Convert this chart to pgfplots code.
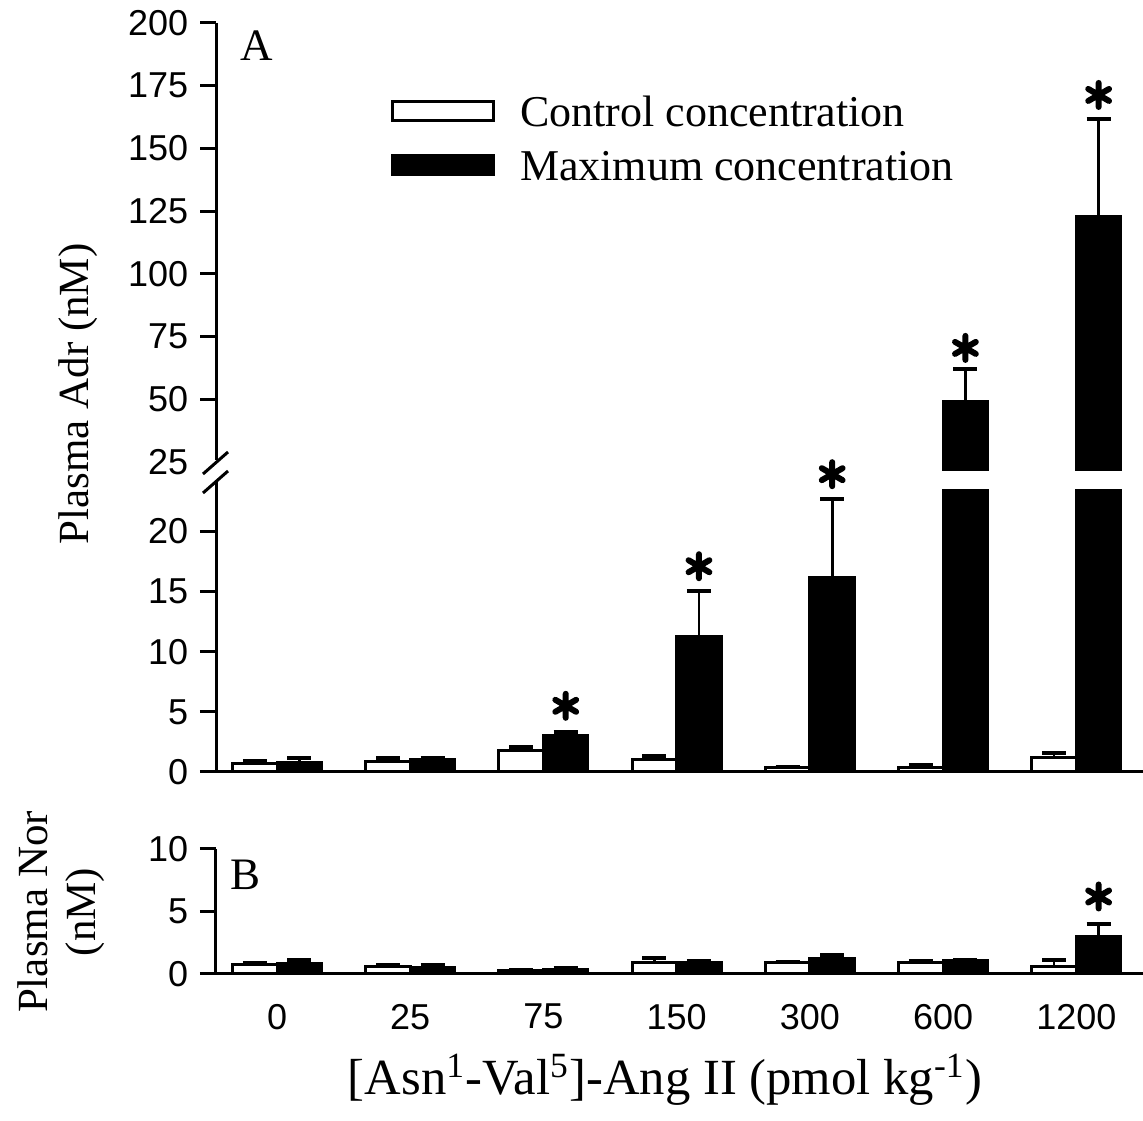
\documentclass[border=0pt]{standalone}
\usepackage{fontspec}
\setmainfont{Liberation Serif}
\newfontfamily\sans{Liberation Sans}
\usepackage{pgfplots}
\usepackage{pgfplotstable}
\pgfplotsset{compat=1.18}
\usetikzlibrary{plotmarks}

\pgfplotstableread{
x c ce m me
0 0.70 0.20 0.80 0.35
1 0.85 0.30 1.00 0.20
2 1.80 0.30 3.00 0.30
3 1.00 0.30 11.30 3.70
4 0.40 0.05 16.20 6.50
5 0.35 0.20 48.90 13.00
6 1.20 0.40 123.00 38.70
}\adrtable

\pgfplotstableread{
x c ce m me
0 0.75 0.15 0.85 0.30
1 0.60 0.15 0.55 0.20
2 0.25 0.10 0.35 0.10
3 0.90 0.40 0.95 0.10
4 0.90 0.05 1.20 0.30
5 0.90 0.15 1.05 0.10
6 0.60 0.50 3.00 1.00
}\nortable

\pgfplotsset{
  common/.style={scale only axis, width=278.1pt, anchor=south west,
    xmin=-0.458, xmax=6.5, tick align=outside, major tick length=4.8pt,
    every tick/.append style={line width=0.9pt, black},
    axis line style={line width=0.9pt},
    yticklabel style={font=\sans\fontsize{10.8}{13}\selectfont},
    xticklabel style={font=\sans\fontsize{10.8}{13}\selectfont},
    /pgf/number format/assume math mode=true},
  barbase/.style={ybar, bar width=13.35pt, bar shift=0pt, draw=black, line width=0.9pt,
    error bars/y dir=plus, error bars/y explicit,
    error bars/error bar style={line width=0.8pt, black},
    error bars/error mark options={rotate=90, line width=1.2pt, mark size=3.6pt, black}},
  whitebar/.style={barbase, fill=white},
  blackbar/.style={barbase, fill=black},
  starmark/.style={only marks, mark=asterisk, mark size=3.6pt,
    mark options={line width=1.8pt, black, line cap=round}},
}

\begin{document}
\begin{tikzpicture}
\path[use as bounding box] (0,0) rectangle (342.9pt,-336.3pt);

% ---------- Panel A, upper part ----------
\begin{axis}[common, at={(64.8pt,-141.3pt)}, height=134.4pt,
  ymin=21.3, ymax=200, ytick={50,75,...,200},
  extra y ticks={25}, extra y tick style={tick style={draw=none}},
  axis x line=none, axis y line*=left, y axis line style={draw=none},
  legend style={at={(0.1888,0.836)}, anchor=north west, draw=none, fill=none,
    inner sep=0pt, outer sep=0pt, row sep=7.2pt, column sep=7.5pt,
    font=\fontsize{13.2}{15}\selectfont,
    nodes={inner sep=0pt, text height=9pt, text depth=0pt}},
  legend cell align=left]
\addlegendimage{legend image code/.code={\draw[fill=white,draw=black,line width=0.9pt] (0pt,-2.85pt) rectangle (30.3pt,2.85pt);}}
\addlegendentry{Control concentration}
\addlegendimage{legend image code/.code={\draw[fill=black,draw=black,line width=0.9pt] (0pt,-2.85pt) rectangle (30.3pt,2.85pt);}}
\addlegendentry{Maximum concentration}
\addplot[blackbar, forget plot, skip coords between index={0}{5}] table[x expr=\thisrow{x}+0.167, y=m, y error=me]{\adrtable};
\addplot[starmark, forget plot] coordinates {(5.167,70.4) (6.167,171.3)};
\node[anchor=base west, inner sep=0pt, font=\fontsize{13.5}{16}\selectfont] at (rel axis cs:0.026,0.917) {A};
\end{axis}

% ---------- Panel A, lower part ----------
\begin{axis}[common, at={(64.8pt,-231.6pt)}, height=84.6pt,
  ymin=0, ymax=23.5, ytick={0,5,...,20}, xtick=\empty,
  axis x line*=bottom, axis y line*=left, y axis line style={draw=none}]
\addplot[whitebar] table[x expr=\thisrow{x}-0.167, y=c, y error=ce]{\adrtable};
\addplot[blackbar] table[x expr=\thisrow{x}+0.167, y=m, y error=me]{\adrtable};
\end{axis}

% stars for lower part (drawn unclipped)
\begin{axis}[common, at={(64.8pt,-231.6pt)}, height=84.6pt,
  ymin=0, ymax=23.5, hide axis, clip=false]
\addplot[starmark] coordinates {(2.167,5.5) (3.167,17.1) (4.167,24.75)};
\end{axis}

% ---------- Panel B ----------
\begin{axis}[common, at={(64.8pt,-292.2pt)}, height=37.5pt,
  ymin=0, ymax=10, ytick={0,5,10},
  xtick={0,...,6}, xticklabels={0,25,75,150,300,600,1200},
  x tick style={draw=none}, xticklabel style={yshift=-0.7pt},
  axis x line*=bottom, axis y line*=left]
\addplot[whitebar] table[x expr=\thisrow{x}-0.167, y=c, y error=ce]{\nortable};
\addplot[blackbar] table[x expr=\thisrow{x}+0.167, y=m, y error=me]{\nortable};
\addplot[starmark] coordinates {(6.167,6.2)};
\node[anchor=base west, inner sep=0pt, font=\fontsize{13.5}{16}\selectfont] at (rel axis cs:0.015,0.672) {B};
\end{axis}

% broken y axis of panel A
\draw[line width=0.9pt] (64.8pt,-6.9pt) -- (64.8pt,-138pt);
\draw[line width=0.9pt] (64.8pt,-144pt) -- (64.8pt,-231.6pt);
\draw[line width=0.9pt] (60.9pt,-142.2pt) -- (68.4pt,-135.6pt);
\draw[line width=0.9pt] (60.9pt,-147.9pt) -- (68.4pt,-141.3pt);

% axis titles
\node[rotate=90, font=\fontsize{12.9}{15}\selectfont] at (23.4pt,-118.2pt) {Plasma Adr (nM)};
\node[rotate=90, align=center, font=\fontsize{12.9}{14.4}\selectfont] at (18.3pt,-273.6pt) {Plasma Nor\\(nM)};
\node[anchor=base, font=\fontsize{15.2}{18}\selectfont] at (199.5pt,-328.5pt) {[Asn\textsuperscript{1}-Val\textsuperscript{5}]-Ang II (pmol kg\textsuperscript{-1})};
\end{tikzpicture}
\end{document}
